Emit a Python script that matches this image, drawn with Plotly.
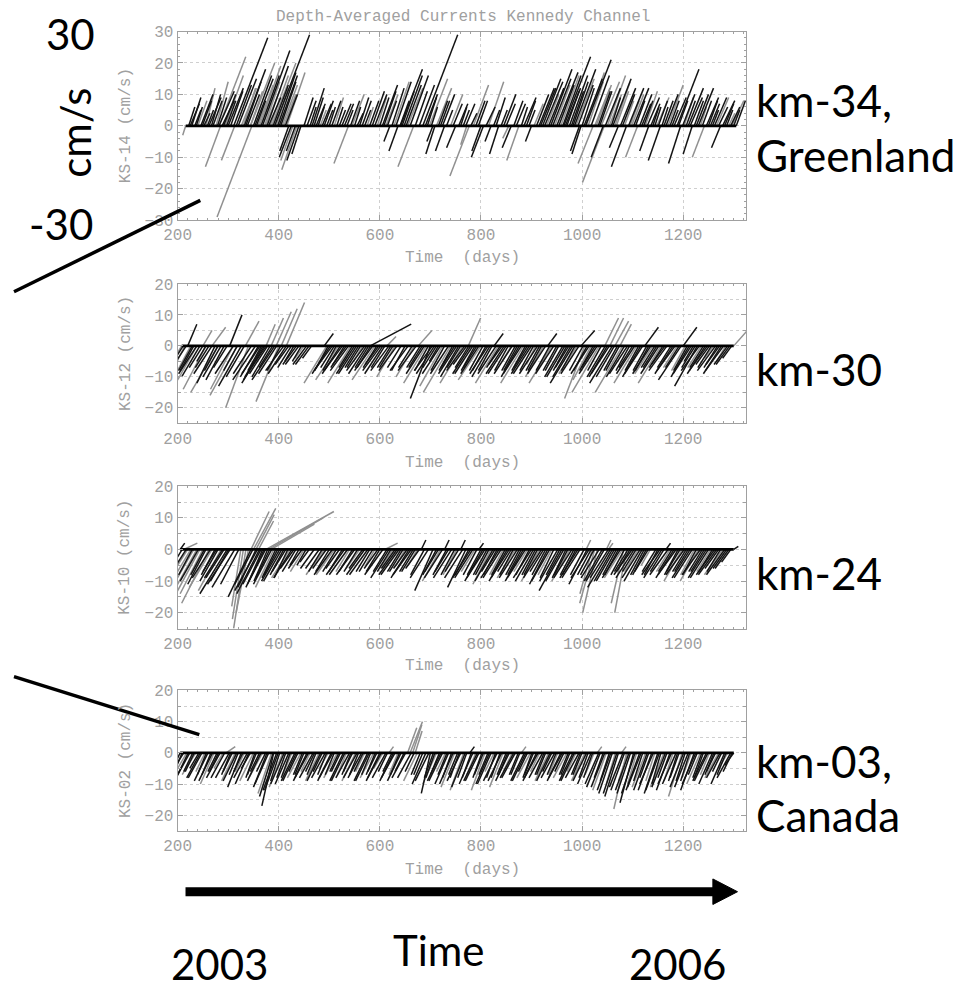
import plotly.graph_objects as go

# ---------------- data (day of stick base, u [cm/s], v [cm/s]) ----------------
TITLE = "Depth-Averaged Currents Kennedy Channel"
x_tick_days = [200, 400, 600, 800, 1000, 1200]
panel_names = ["KS-14", "KS-12", "KS-10", "KS-02"]
site_labels = [["km-34,", "Greenland"], ["km-30"], ["km-24"], ["km-03,", "Canada"]]
time_labels = ["2003", "Time", "2006"]
scale_labels = ["30", "cm/s", "-30"]

ks14_black = [(222,2,6),(228,3,9),(234,2,5),(246,4,10),(252,2,4),(262,4,9),(270,3,8),(282,5,11),(288,4,8),(300,5,12),
    (311,11.2,28),(320,6,15),(332,7,18),(338,4,10),(350,6,16),(356,3,8),(368,9,24),(380,4,9),(392,11.5,29),(398,6,17),
    (404,5,14),(420,-3,-8),(444,-3,-9),(450,3,9),(466,4,12),(474,3,7),(490,3,8),(500,2,6),(520,2,5),(530,3,7),
    (555,2,4),(565,3,8),(585,4,11),(605,5,13),(620,-2,-5),(640,3,8),(641,7.2,18),(648,6,16),(685,11.5,29),(690,4,10),
    (705,-2,-5),(720,3,8),(728,-3,-8),(756,3,7),(765,2,5),(795,3,8),(805,-4,-10),(825,2,5),(835,-3,-9),(845,4,10),
    (865,3,8),(885,4,9),(895,2,5),(915,5,12),(922,6,15),(938,7,18),(964,8.8,22),(970,4,11),(982,5,14),(995,-3,-8),
    (1000,4,12),(1007,8.4,21),(1035,4,11),(1042,-4,-10),(1058,3,9),(1072,-3,-7),(1080,4,10),(1088,-5,-13),(1102,5,12),(1118,3,7),
    (1132,-3,-8),(1140,2,6),(1155,-4,-11),(1162,3,8),(1178,2,5),(1188,7.2,18),(1195,-4,-12),(1210,5,12),(1218,-3,-9),(1226,4,10),
    (1250,3,8),(1258,2,5),(1274,-3,-7),(1282,3,7),(1305,3,8),
    (225,3,7),(237,2,6),(249,3,8),(259,2,5),(267,3,10),(279,3,9),(291,4,10),(297,3,8),(305,4,11),(316,5,13),
    (335,5,14),(353,6,15),(365,6,16),(377,7,19),(389,5,13),
    (401,6,16),(413,4,10),(425,-4,-10),(433,-3,-8),(440,-4,-11),(456,3,8),(462,2,6),(470,3,9),
    (478,2,6),(486,3,7),(495,2,5),(505,3,8),(515,2,6),(525,3,7),(535,2,5),(542,3,8),(550,2,6),(560,3,9),
    (570,2,5),(580,3,8),(590,4,10),(600,3,9),(608,4,11),(615,3,8),(624,4,12),(632,5,14),(636,-3,-8),(644,4,11),
    (652,5,13),(660,6,16),(670,4,11),(678,5,13),(694,3,9),(702,2,6),(709,-3,-9),(716,3,8),(724,4,10),(732,2,5),
    (745,3,7),(750,-3,-7),(760,2,6),(770,3,7),(780,2,4),(790,3,8),(800,-3,-8),(810,3,6),(820,-2,-5),(830,3,9),
    (840,2,5),(850,3,7),(860,-3,-7),(870,3,7),(880,2,6),(890,3,8),(900,-2,-5),(910,4,10),(918,5,12),(926,6,14),
    (934,5,12),(942,6,15),(950,7,17),(954,5,13),(962,6,16),(967,5,12),(975,6,16),(979,4,11),(985,7,18),(992,5,13),
    (998,-3,-9),(1004,6,15),(1018,6,16),(1032,4,11),(1046,5,12),(1061,6,15),
    (1076,5,12),(1092,5,12),(1106,3,8),(1114,4,10),(1122,3,8),(1129,4,9),(1136,3,7),
    (1144,2,6),(1151,3,8),(1158,2,6),(1166,4,10),(1174,3,8),(1182,4,9),(1191,3,8),(1199,4,10),(1206,3,8),(1214,4,9),
    (1222,3,8),(1230,5,12),(1238,3,8),(1246,4,9),(1254,3,7),(1262,4,9),(1270,3,6),(1278,4,8),(1286,2,5),(1294,3,6),(1300,2,5)]
ks14_gray = [(216,-1,-3),(240,3,8),(256,3,12),(276,4,14),(282,8.8,22),(285,-5,-13),(294,6,16),(313,-4.4,-11),(326,5,12),(344,8,20),
    (347,-11.5,-29),(362,7,19),(374,5,12),(386,8,20),(410,4,10),(416,6,17),(428,-4,-11),(436,-5,-14),(482,2,5),(510,3,9),
    (538,-4.8,-12),(545,4,10),(575,2,6),(595,3,9),(612,4,10),(628,5,14),(655,5,12),(667,-5.2,-13),(698,6,15),(712,5,12),
    (740,4,10),(772,-2,-6),(777,-6.4,-16),(785,5,13),(815,5,14),(855,-2,-4),(875,-4,-11),(905,3,7),(930,4,10),(946,5,13),
    (958,6,16),(988,6,15),(1008,6,17),(1022,-5,-12),(1028,5,13),(1044,-7.2,-18),(1050,6,16),(1065,5,14),(1095,3,8),(1110,-4,-10),
    (1125,4,11),(1148,4,9),(1170,5,13),(1202,3,9),(1234,2,6),(1242,-4,-10),(1266,4,9),(1290,2,4),(1296,4,8),
    (330,4,12),(344,4,11),(359,5,13),(372,5,14),(383,6,16),(395,4,12),(407,5,13),
    (1012,5,14),(1025,5,12),(1038,6,14),(1054,4,10),(1068,4,11),(1084,3,8),(1098,4,10)]

ks12_black = [(220,2,7),(232,-3,-8),(244,-4,-10),(262,-3,-7),(274,-4,-12),(292,-4,-11),(303,2.7,10),(326,-5,-13),(360,-4,-10),(366,-3,-8),
    (372,-5,-12),(378,-4,-9),(388,-3,-7),(392,-5,-11),(410,-4,-8),(420,-3,-6),(430,-2,-5),(440,-3,-6),(460,-3,-6),(490,2,4),
    (502,-4,-9),(510,-3,-7),(526,-4,-8),(534,-3,-6),(550,-4,-9),(558,-3,-7),(574,-4,-9),(581,9,7),(582,-3,-7),(598,-3,-6),
    (606,-4,-9),(622,-3,-7),(650,-3,-8),(684,-3,-7),(700,-4.4,-17),(708,-4,-9),(716,-2,-5),(748,-3,-7),(756,-4,-10),(772,-3,-6),
    (784,-4,-9),(792,-3,-7),(810,-3,-8),(818,-4,-10),(826,2,4),(842,-3,-6),(850,-4,-9),(868,-3,-8),(876,-4,-10),(892,-3,-7),
    (900,-4,-9),(916,-3,-8),(932,2,4),(950,-3,-8),(966,-4,-10),(974,-3,-7),(982,-5,-12),(998,3,5),(1010,-3,-8),(1026,-3,-7),
    (1050,-4,-10),(1060,-5,-12),(1070,-3,-8),(1090,-4,-9),(1100,-3,-7),(1116,-4,-10),(1124,3,6),(1132,-3,-8),(1148,-3,-7),(1164,-3,-6),
    (1180,-4,-9),(1196,-5,-11),(1200,3,6),(1212,-4,-10),(1220,-2,-5),(1228,-5,-13),(1244,-4,-9),(1252,-3,-6),(1268,-3,-7),(1276,-4,-9),
    (1292,-3,-6),
    (211,-3,-7),(217,-4,-9),(229,-3,-8),(238,-4,-9),(250,-3,-7),(256,-2,-5),(268,-4,-9),(280,-3,-8),(286,-4,-10),(298,-3,-7),
    (310,-4,-9),(318,-3,-8),(332,-4,-10),(346,-4,-9),(354,-5,-11),(363,-4,-9),(369,-4,-10),(375,-5,-11),(383,-4,-10),(396,-4,-9),
    (404,-3,-8),(415,-4,-9),(425,-3,-7),(435,-3,-6),(445,-2,-5),(455,-3,-6),(465,-2,-4),(498,-3,-8),(506,-4,-8),(514,-3,-8),
    (522,-4,-9),(530,-3,-7),(538,-4,-8),(546,-3,-7),(554,-4,-9),(562,-3,-7),(570,-4,-8),(578,-3,-7),(586,-4,-8),(594,-3,-7),
    (602,-4,-8),(610,-3,-7),(618,-4,-8),(626,-3,-7),(634,-4,-8),(642,-3,-7),(656,-4,-8),(664,-3,-7),(672,-4,-8),(680,-3,-7),
    (688,-4,-9),(696,-3,-8),(704,-4,-8),(712,-3,-7),(720,-4,-9),(728,-3,-8),(736,-4,-9),(744,-3,-8),(752,-4,-9),(760,-3,-7),
    (768,-4,-8),(776,-3,-7),(780,-4,-9),(788,-3,-8),(796,-4,-9),(804,-3,-8),(814,-4,-9),(822,-3,-8),(830,-4,-9),(838,-3,-7),
    (846,-4,-9),(854,-3,-8),(862,-4,-9),(872,-3,-8),(880,-4,-9),(888,-3,-8),(896,-4,-9),(904,-3,-8),(912,-4,-9),(920,-3,-8),
    (928,-4,-9),(936,-3,-8),(944,-4,-9),(954,-3,-8),(962,-4,-10),(970,-3,-8),(978,-4,-10),(986,-3,-8),(994,-4,-9),(1002,-3,-8),
    (1014,-4,-9),(1022,-3,-8),(1030,-4,-9),(1038,-3,-8),(1046,-4,-10),(1054,-4,-9),(1064,-4,-10),(1074,-3,-8),(1084,-4,-10),(1094,-3,-8),
    (1104,-4,-9),(1112,-3,-8),(1120,-4,-9),(1128,-3,-8),(1136,-4,-9),(1144,-3,-7),(1152,-4,-9),(1160,-3,-7),(1168,-4,-8),(1176,-3,-7),
    (1184,-4,-8),(1192,-3,-7),(1208,-3,-8),(1216,-4,-9),(1224,-3,-7),(1232,-4,-8),(1240,-3,-7),(1248,-4,-8),(1256,-3,-7),(1264,-4,-8),
    (1272,-3,-6),(1280,-4,-8),(1288,-3,-6),(1296,-2,-4)]
ks12_gray = [(208,-2,-5),(214,-3,-9),(226,-4,-11),(238,-5,-13),(250,2,5),(256,-5,-14),(268,3,6),(280,-6,-15),(310,-5,-14),(318,-6,-16),
    (334,3,8),(340,-5,-20),(375,2,7),(385,2.7,9),(395,3.3,11),(400,-5,-18),(405,3.5,12),(415,4,14),(450,-2,-4),(495,-5,-12),
    (518,-5,-11),(542,-5,-12),(566,-2,-5),(590,-5,-11),(614,2,3),(630,-4,-10),(668,-4,-10),(676,3,5),(692,-5,-12),(724,-5,-13),
    (740,-6,-15),(764,-5,-12),(775,2.7,9),(800,-5,-11),(834,-5,-12),(860,-2,-5),(884,-5,-12),(908,-2,-6),(924,-4,-10),(940,-5,-12),
    (990,-4,-9),(1005,-4.4,-17),(1018,-4,-11),(1034,-6,-15),(1045,3,9),(1055,3,9),(1065,3,8),(1075,2.5,7),(1080,-6,-15),(1108,-5,-12),
    (1140,-4,-9),(1156,-5,-12),(1188,-3,-7),(1204,-3,-8),(1236,-3,-7),(1260,-2,-4),(1284,-2,-5),(1300,3,5)]

ks10_black = [(205,1,2),(256,-4,-11),(274,-3,-8),(280,-4,-10),(292,-4,-9),(298,-6,-14),(304,-5,-11),(345,-5,-15),(355,-4,-12),(362,-5,-14),
    (368,-3,-10),(374,-4,-11),(382,-3,-9),(398,-3,-8),(406,-4,-10),(414,-3,-7),(430,-3,-6),(440,-2,-5),(460,-2,-4),(480,-3,-6),
    (500,-3,-7),(520,-3,-6),(530,-4,-8),(550,-4,-8),(570,-4,-8),(580,-3,-7),(600,-3,-7),(618,-4,-9),(634,-4,-8),(642,-3,-7),
    (658,-4,-9),(666,-3,-7),(682,1,3),(705,-4,-13),(712,-3,-8),(728,1,3),(736,-3,-7),(760,1,3),(770,-4,-12),(780,-4,-9),
    (796,1,2),(804,-4,-10),(812,-3,-8),(828,-3,-7),(836,-4,-9),(852,-4,-10),(860,-3,-7),(876,-3,-8),(884,-4,-10),(900,-4,-9),
    (908,-3,-8),(924,-3,-7),(932,-4,-11),(960,-5,-13),(968,-3,-9),(984,-3,-8),(992,-4,-9),(1010,-4,-11),(1018,-3,-8),(1040,-4,-10),
    (1056,-5,-12),(1064,-4,-10),(1072,-3,-8),(1095,-3,-7),(1103,-4,-9),(1119,-4,-10),(1127,-3,-8),(1150,-3,-8),(1158,-4,-9),(1166,1,2),
    (1182,-4,-9),(1190,-3,-8),(1206,-3,-7),(1214,-4,-9),(1238,-3,-7),(1246,-4,-9),(1262,-4,-8),(1270,-3,-6),(1286,-3,-6),(1294,-2,-4),
    (1300,1,1),
    (209,-3,-7),(217,-4,-9),(229,-3,-8),(241,-4,-10),(253,-3,-8),(265,-4,-9),(277,-3,-7),(289,-4,-9),(301,-4,-10),(313,-5,-12),
    (321,-4,-11),(349,-4,-11),(358,-5,-13),(365,-4,-11),(371,-4,-12),(378,-3,-10),(386,-4,-11),(394,-3,-9),(402,-4,-10),(410,-3,-8),
    (418,-3,-9),(426,-4,-9),(434,-3,-7),(446,-3,-6),(454,-2,-5),(470,-3,-6),(486,-3,-7),(494,-3,-6),(506,-4,-8),(514,-3,-7),
    (526,-3,-7),(536,-4,-8),(546,-3,-7),(556,-3,-7),(566,-3,-6),(576,-4,-8),(586,-3,-7),(596,-3,-6),(606,-4,-8),(614,-3,-7),
    (622,-3,-7),(630,-3,-6),(638,-4,-8),(646,-3,-7),(654,-3,-6),(662,-4,-8),(670,-3,-7),(678,-3,-6),(688,-3,-8),(696,-4,-9),
    (716,-3,-7),(724,-4,-9),(732,-3,-8),(742,-4,-9),(748,-3,-8),(756,-3,-7),(764,-4,-9),(776,-3,-8),(784,-4,-9),(792,-3,-8),
    (800,-3,-8),(808,-4,-9),(816,-3,-8),(824,-4,-10),(832,-3,-8),(840,-4,-9),(848,-3,-8),(856,-4,-9),(864,-3,-8),(872,-4,-9),
    (880,-3,-8),(888,-4,-9),(896,-3,-8),(904,-4,-10),(912,-3,-8),(920,-4,-9),(928,-3,-8),(936,-4,-10),(944,-3,-9),(952,-4,-10),
    (956,-3,-8),(964,-4,-10),(972,-3,-8),(980,-4,-9),(988,-3,-8),(996,-4,-9),(1004,-3,-8),(1014,-4,-9),(1024,-3,-8),(1034,-4,-9),
    (1044,-4,-10),(1052,-4,-9),(1060,-4,-10),(1068,-3,-8),(1076,-4,-9),(1084,-3,-8),(1091,-3,-7),(1099,-4,-8),(1107,-3,-7),(1115,-4,-9),
    (1123,-3,-8),(1131,-3,-7),(1146,-3,-7),(1154,-4,-8),(1162,-3,-7),(1170,-4,-8),(1178,-3,-7),(1186,-4,-8),(1194,-3,-7),(1202,-4,-8),
    (1210,-3,-7),(1218,-4,-9),(1226,-3,-8),(1234,-4,-8),(1242,-3,-7),(1250,-4,-9),(1258,-3,-7),(1266,-4,-8),(1274,-3,-7),(1282,-4,-8),
    (1290,-3,-6)]
ks10_gray = [(212,3,2),(220,-4,-9),(226,-5,-12),(232,-6,-15),(238,-5,-13),(244,-6,-16),(250,-5,-14),(262,-6,-17),(268,-5,-12),(286,-5,-13),
    (325,-2,-18),(330,-2.4,-22),(335,-2.7,-25),(340,-2.7,-20),(345,4,12),(350,4.9,13),(355,4,11),(360,3.3,9),(375,14.9,12),(380,12,10),
    (385,9.5,8),(390,-4,-12),(422,-4,-9),(450,-3,-7),(490,-4,-8),(510,-4,-8),(540,-3,-7),(560,-3,-6),(590,-2,-5),(610,2.8,2),
    (626,-3,-6),(650,-2,-5),(674,-2,-5),(720,-4,-10),(752,-3,-8),(788,-3,-7),(820,-4,-11),(844,-3,-8),(868,-4,-9),(892,-3,-7),
    (916,-4,-10),(940,-3,-8),(976,-4,-10),(1008,1,3),(1020,-2.7,-14),(1025,-3.3,-17),(1030,-3.2,-20),(1048,1,3),(1052,1,2),(1080,-4,-9),
    (1082,-2.7,-17),(1088,-2.6,-20),(1111,-3,-7),(1135,-2,-5),(1174,-3,-7),(1198,-4,-10),(1222,-3,-8),(1230,-4,-10),(1254,-3,-7),(1278,-4,-8)]

ks02_black = [(205,-2,-6),(212,-3,-7),(224,-3,-8),(230,-2,-6),(242,-2,-5),(248,-3,-8),(260,-3,-9),(266,-2,-7),(278,-2,-6),(284,-3,-8),
    (302,-3,-8),(308,-2,-6),(320,-2,-7),(326,-3,-11),(338,-3,-8),(344,-2,-5),(356,-2,-7),(362,-2,-6),(374,-2,-6),(380,-3,-10),
    (390,-2.6,-17),(396,-3,-12),(402,-2,-9),(414,-2,-8),(420,-3,-10),(432,-3,-9),(438,-2,-6),(450,-2,-7),(456,-3,-9),(468,-3,-8),
    (474,-2,-7),(486,-2,-6),(492,-3,-8),(504,-3,-9),(510,-2,-7),(522,-2,-6),(528,-3,-9),(540,-3,-8),(546,-2,-6),(558,-2,-7),
    (564,-3,-8),(576,-3,-9),(582,-2,-7),(594,-2,-6),(600,-3,-9),(612,-3,-8),(624,-2,-6),(630,-3,-8),(642,-3,-9),(648,-2,-6),
    (662,-3,-8),(668,-2,-6),(680,-2,-7),(700,-2,-13),(706,-2,-8),(718,-2,-7),(724,-3,-9),(736,-3,-10),(742,-2,-8),(754,-2,-7),
    (760,-3,-9),(772,-2,-8),(778,1,2),(784,-3,-10),(796,-3,-9),(802,-2,-8),(814,-2,-7),(820,-3,-10),(832,-3,-9),(838,-2,-8),
    (850,-2,-7),(856,-3,-9),(868,-3,-8),(874,-2,-7),(886,-3,-9),(892,-2,-6),(904,-2,-7),(910,-3,-9),(922,-3,-8),(928,-2,-7),
    (940,-2,-6),(946,-3,-8),(958,-3,-9),(964,-2,-6),(976,-2,-7),(982,-3,-9),(994,-3,-8),(1000,-2,-7),(1012,-2,-8),(1018,-3,-10),
    (1036,-3,-11),(1042,-2,-8),(1054,-2,-9),(1060,-3,-13),(1072,-3,-14),(1084,-3,-12),(1096,-3,-13),(1102,-3,-16),(1114,-3,-12),(1120,-2,-9),
    (1132,-2,-8),(1138,-3,-12),(1150,-3,-13),(1156,-2,-10),(1168,-2,-8),(1174,-3,-12),(1186,-3,-10),(1192,-2,-8),(1204,-2,-9),(1210,-3,-11),
    (1222,-3,-12),(1228,-2,-7),(1240,-2,-8),(1246,-3,-9),(1258,-3,-10),(1264,-2,-6),(1276,-2,-6),(1282,-3,-10),(1294,-3,-8),(1300,-2,-4),
    (209,-2,-7),(221,-3,-9),(233,-2,-6),(245,-3,-8),(257,-2,-7),(269,-3,-9),(281,-2,-6),(293,-3,-8),(305,-2,-7),(317,-3,-9),
    (329,-2,-6),(341,-3,-10),(353,-2,-8),(365,-3,-9),(377,-3,-11),(389,-3,-14),(399,-3,-12),(411,-3,-10),(423,-2,-8),(435,-3,-9),
    (447,-2,-7),(459,-3,-8),(471,-2,-6),(483,-3,-9),(495,-2,-7),(507,-3,-8),(519,-2,-6),(531,-3,-9),(543,-2,-7),(555,-3,-8),
    (567,-2,-6),(579,-3,-9),(591,-2,-7),(603,-3,-8),(615,-2,-6),(627,-3,-9),(639,-2,-7),(651,-3,-8),(685,-2,-7),(691,-3,-10),
    (697,-3,-9),(709,-2,-8),(721,-3,-9),(733,-2,-7),(745,-3,-10),(757,-2,-8),(769,-3,-11),(781,-2,-8),(793,-3,-9),(805,-2,-7),
    (817,-3,-10),(829,-2,-8),(841,-3,-9),(853,-2,-7),(865,-3,-8),(877,-2,-7),(889,-3,-9),(901,-2,-8),(913,-3,-8),(925,-2,-7),
    (937,-3,-9),(949,-2,-7),(961,-3,-8),(973,-2,-7),(985,-3,-9),(997,-2,-7),(1009,-3,-9),(1021,-2,-8),(1033,-3,-10),(1045,-3,-11),
    (1057,-3,-12),(1069,-3,-13),(1081,-3,-11),(1093,-3,-12),(1105,-3,-13),(1117,-3,-11),(1129,-3,-12),(1141,-3,-10),(1153,-3,-12),(1165,-3,-11),
    (1177,-3,-10),(1189,-2,-9),(1201,-3,-11),(1213,-2,-9),(1225,-3,-10),(1237,-2,-8),(1249,-3,-9),(1261,-2,-7),(1273,-3,-8),(1285,-2,-7),(1297,-2,-6)]
ks02_gray = [(218,-2,-5),(236,-3,-7),(254,-2,-6),(272,-3,-10),(290,-2,-5),(296,2,2),(314,-3,-9),(332,-2,-6),(350,-3,-9),(368,-3,-8),
    (386,-3,-13),(408,-3,-11),(426,-2,-7),(444,-3,-8),(462,-2,-6),(480,-3,-9),(498,-2,-5),(516,-3,-8),(534,-2,-7),(552,-3,-9),
    (570,-2,-6),(588,-3,-8),(606,-2,-5),(618,1,2),(636,-2,-7),(655,2,8),(660,2.7,10),(665,2,9),(670,1.5,7),(674,-3,-9),
    (712,-3,-10),(730,-2,-6),(748,-3,-11),(766,-3,-12),(790,-2,-7),(808,-3,-12),(826,-2,-6),(844,-3,-11),(862,-2,-6),(880,1,2),
    (898,-3,-8),(916,-2,-6),(934,-3,-9),(952,-2,-7),(970,-3,-8),(988,-2,-6),(1006,-3,-9),(1024,-2,-7),(1030,1,2),(1048,-3,-12),
    (1066,-2,-10),(1078,1,2),(1088,-2.8,-18),(1090,-2,-9),(1108,-2,-10),(1126,-3,-11),(1144,-2,-9),(1162,-3,-11),(1180,-2,-9),(1198,-3,-14),
    (1216,-2,-8),(1234,-3,-10),(1252,-2,-7),(1270,-3,-8),(1288,-2,-5)]

# ---------------- geometry / style ----------------
W, H = 980, 996
def fx(px): return px / W
def fy(py): return 1 - py / H

X_RANGE = [200, 1325]
X_LEFT, X_RIGHT = 166, 743
IDL_FONT = "Liberation Mono"
IDL_GRAY = "#a0a0a0"
GRID_GRAY = "#cfcfcf"
SLIDE_FONT = "Lato"

# u_scale: horizontal stick scale of each panel, days per cm/s of u
panels = [
    dict(name=panel_names[0], black=ks14_black, gray=ks14_gray, yr=[-30, 30], yt=[-30, -20, -10, 0, 10, 20, 30],
         top=25, bot=217, minor_grid=False, ttl=256, u_scale=6.0),
    dict(name=panel_names[1], black=ks12_black, gray=ks12_gray, yr=[-25, 20], yt=[-20, -10, 0, 10, 20],
         top=282, bot=424, minor_grid=True, ttl=464, u_scale=9.0),
    dict(name=panel_names[2], black=ks10_black, gray=ks10_gray, yr=[-25, 20], yt=[-20, -10, 0, 10, 20],
         top=488, bot=633, minor_grid=True, ttl=671, u_scale=9.0),
    dict(name=panel_names[3], black=ks02_black, gray=ks02_gray, yr=[-25, 20], yt=[-20, -10, 0, 10, 20],
         top=696, bot=839, minor_grid=True, ttl=879, u_scale=9.0),
]

def sticks(rows, k):
    xs, ys = [], []
    for d, u, v in rows:
        xs += [d, d + u * k, None]
        ys += [0, v, None]
    return xs, ys

def paper_text(x, y, text, family, size, color, angle=0, xanchor="center"):
    return dict(x=fx(x), y=fy(y), xref="paper", yref="paper", text=text, showarrow=False,
                xanchor=xanchor, yanchor="middle", textangle=angle,
                font=dict(family=family, size=size, color=color))

fig = go.Figure()
annotations = []
layout = {}
for i, p in enumerate(panels, start=1):
    xa = "x" if i == 1 else f"x{i}"
    ya = "y" if i == 1 else f"y{i}"
    for rows, col, wd in ((p["gray"], "#909090", 1.5), (p["black"], "#141414", 1.5)):
        xs, ys = sticks(rows, p["u_scale"])
        fig.add_trace(go.Scatter(x=xs, y=ys, mode="lines", xaxis=xa, yaxis=ya,
                                 line=dict(color=col, width=wd), hoverinfo="skip"))
    days = [r[0] for r in p["black"] + p["gray"]]
    fig.add_trace(go.Scatter(x=[min(days), max(days)], y=[0, 0], mode="lines", xaxis=xa, yaxis=ya,
                             line=dict(color="#000000", width=2.8), hoverinfo="skip"))

    common_axis = dict(showline=True, mirror="ticks", linecolor=IDL_GRAY, linewidth=1,
                       ticks="inside", ticklen=5, tickcolor=IDL_GRAY, zeroline=False,
                       showgrid=True, gridcolor=GRID_GRAY, griddash="dot", gridwidth=1,
                       tickfont=dict(family=IDL_FONT, size=16, color=IDL_GRAY))
    layout["xaxis" if i == 1 else f"xaxis{i}"] = dict(
        common_axis, domain=[fx(X_LEFT), fx(X_RIGHT)], range=X_RANGE, anchor=ya,
        tickvals=x_tick_days,
        minor=dict(dtick=20, tick0=200, ticks="inside", ticklen=2, tickcolor=IDL_GRAY, showgrid=False))
    if p["minor_grid"]:
        ymin = dict(dtick=5, tick0=0, ticks="inside", ticklen=3, tickcolor=IDL_GRAY,
                    showgrid=True, gridcolor=GRID_GRAY, griddash="dot", gridwidth=1)
    else:
        ymin = dict(dtick=2, tick0=0, ticks="inside", ticklen=2, tickcolor=IDL_GRAY, showgrid=False)
    layout["yaxis" if i == 1 else f"yaxis{i}"] = dict(
        common_axis, domain=[fy(p["bot"]), fy(p["top"])], range=p["yr"], anchor=xa,
        tickvals=p["yt"], minor=ymin)

    annotations.append(paper_text((X_LEFT + X_RIGHT) / 2, p["ttl"], "Time  (days)", IDL_FONT, 16, IDL_GRAY))
    annotations.append(paper_text(113, (p["top"] + p["bot"]) / 2, f"{p['name']} (cm/s)", IDL_FONT, 16,
                                  IDL_GRAY, angle=-90))

annotations.append(paper_text(455, 10, TITLE, IDL_FONT, 16, IDL_GRAY))

# slide labels (black)
site_pos = [[95, 151], [369], [576], [768, 823]]
for labs, ys in zip(site_labels, site_pos):
    for t, yy in zip(labs, ys):
        annotations.append(paper_text(751, yy, t, SLIDE_FONT, 44, "#000000", xanchor="left"))
annotations.append(paper_text(57, 27, scale_labels[0], SLIDE_FONT, 42, "#000000"))
annotations.append(paper_text(62, 128, scale_labels[1], SLIDE_FONT, 42, "#000000", angle=-90))
annotations.append(paper_text(48, 221, scale_labels[2], SLIDE_FONT, 42, "#000000"))
for t, (xx, yy) in zip(time_labels, [(208, 975), (431, 960), (673, 975)]):
    annotations.append(paper_text(xx, yy, t, SLIDE_FONT, 42, "#000000"))

shapes = [
    dict(type="line", xref="paper", yref="paper", x0=fx(0), y0=fy(290), x1=fx(189), y1=fy(197),
         line=dict(color="#000000", width=3.5)),
    dict(type="line", xref="paper", yref="paper", x0=fx(0), y0=fy(682), x1=fx(188), y1=fy(741),
         line=dict(color="#000000", width=3.5)),
    dict(type="line", xref="paper", yref="paper", x0=fx(174), y0=fy(901), x1=fx(712), y1=fy(901),
         line=dict(color="#000000", width=9)),
    dict(type="path", xref="paper", yref="paper",
         path=f"M {fx(709)},{fy(888)} L {fx(734)},{fy(901)} L {fx(709)},{fy(914)} Z",
         fillcolor="#000000", line=dict(color="#000000", width=1)),
]

fig.update_layout(width=W, height=H, margin=dict(l=0, r=0, t=0, b=0), showlegend=False,
                  paper_bgcolor="white", plot_bgcolor="white",
                  annotations=annotations, shapes=shapes, **layout)
fig.write_html("out.html")
